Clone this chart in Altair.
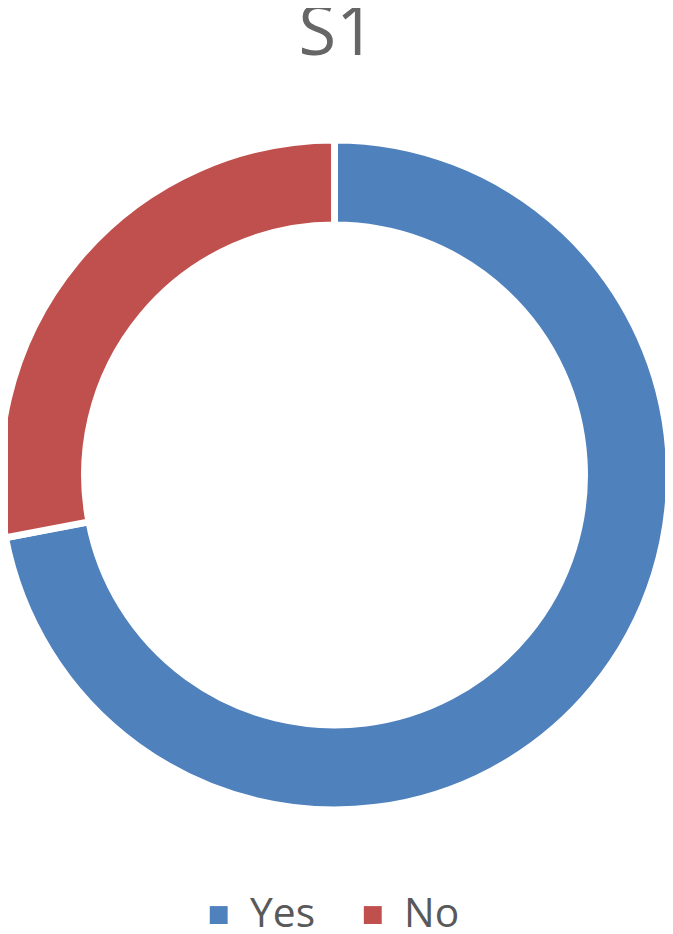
import altair as alt
import pandas as pd

title_text = ["S1"]
categories = ["Yes", "No"]
values = [72, 28]
colors = ["#4F81BD", "#C0504D"]

df = pd.DataFrame({"answer": categories, "value": values, "order": [0, 1]})
title_df = pd.DataFrame({"t": title_text})

W = 661
H = 924

donut = (
    alt.Chart(df)
    .mark_arc(radius=337, radius2=251.5, stroke="white", strokeWidth=7)
    .encode(
        theta=alt.Theta("value:Q", stack=True),
        order=alt.Order("order:Q"),
        color=alt.Color(
            "answer:N",
            scale=alt.Scale(domain=categories, range=colors),
            sort=categories,
            legend=alt.Legend(
                title=None,
                orient="none",
                direction="horizontal",
                legendX=191.5,
                legendY=889,
                symbolType="square",
                symbolSize=324,
                symbolStrokeWidth=0,
                labelFontSize=41,
                labelFont="Open Sans",
                labelColor="#595959",
                labelOffset=11,
                columnPadding=37,
            ),
        ),
        x=alt.value(328.5),
        y=alt.value(475 - 8),
    )
)

title = (
    alt.Chart(title_df)
    .mark_text(
        font="Open Sans",
        fontSize=69,
        color="#666666",
        align="center",
        baseline="alphabetic",
    )
    .encode(text="t:N", x=alt.value(339 - 8), y=alt.value(52.5 - 8))
)

chart = (
    alt.layer(donut, title)
    .properties(
        width=W,
        height=H,
        autosize=alt.AutoSizeParams(type="none"),
        padding={"top": 0, "left": 0, "right": 0, "bottom": 0},
    )
    .configure_view(stroke=None)
)

chart.save("out.html", embed_options={"renderer": "svg", "actions": False})
